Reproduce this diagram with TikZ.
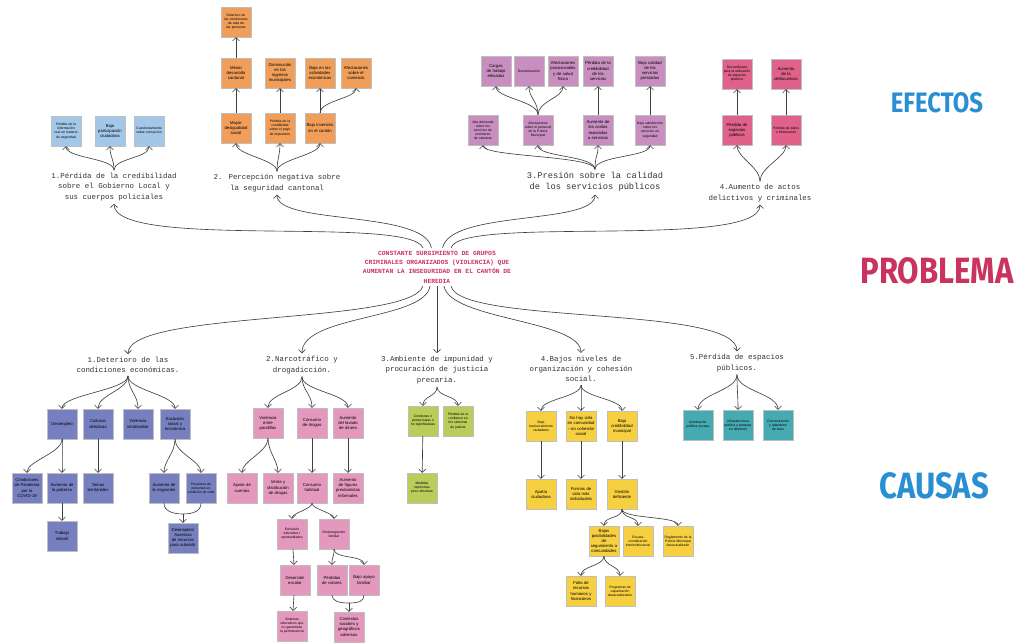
\documentclass[tikz,border=0pt]{standalone}
\usepackage{fontspec}
\setmainfont{Liberation Sans}
\newfontfamily\monofont{Liberation Mono}
\newfontfamily\titlefont[FakeStretch=0.85]{Fira Sans}
\usetikzlibrary{arrows.meta}
\hyphenpenalty=10000
\exhyphenpenalty=10000

\definecolor{efblue}{RGB}{163,199,232}
\definecolor{eforange}{RGB}{240,158,90}
\definecolor{efpurple}{RGB}{201,142,192}
\definecolor{efpink}{RGB}{224,98,138}
\definecolor{caviolet}{RGB}{118,128,192}
\definecolor{capink}{RGB}{228,152,190}
\definecolor{caolive}{RGB}{186,204,90}
\definecolor{cayellow}{RGB}{246,208,64}
\definecolor{cateal}{RGB}{70,170,178}
\definecolor{titleblue}{RGB}{42,143,210}
\definecolor{titlered}{RGB}{201,51,95}

\tikzset{
  note/.style={draw=black!25, line width=0.2pt, minimum width=0.75cm, minimum height=0.75cm,
    text width=0.68cm, align=center, inner sep=0.5pt, font=\fontsize{3}{3.6}\selectfont},
  small/.style={font=\fontsize{2.4}{2.9}\selectfont},
  head/.style={font=\monofont\fontsize{5.3}{7.3}\selectfont, text=black!80, align=center, inner sep=2pt},
  arr/.style={draw=black!75, line width=0.45pt, -{Straight Barb[length=2.4pt,width=5pt]}},
  line/.style={draw=black!75, line width=0.45pt},
  big/.style={font=\titlefont\bfseries\fontsize{26}{26}\selectfont}
}

\begin{document}
\begin{tikzpicture}[x=0.025cm, y=-0.025cm]
\fill[white] (0,0) rectangle (1022,643);
\useasboundingbox (0,0) rectangle (1022,643);

% Titles
\node[big, text=titleblue, font=\titlefont\bfseries\fontsize{20}{20}\selectfont] (tef) at (937,103) {EFECTOS};
\node[big, text=titlered] (tpr) at (937,271) {PROBLEMA};
\node[big, text=titleblue] (tca) at (934,486) {CAUSAS};

% Central problem
\node[font=\monofont\bfseries\fontsize{4.5}{6.6}\selectfont, text=titlered, align=center, inner sep=2pt] (prob) at (437,267)
  {CONSTANTE SURGIMIENTO DE GRUPOS\\CRIMINALES ORGANIZADOS (VIOLENCIA) QUE\\AUMENTAN LA INSEGURIDAD EN EL CANTÓN DE\\HEREDIA};

% Effect 1
\node[head] (he1) at (114,187) {1.Pérdida de la credibilidad\\sobre el Gobierno Local y\\sus cuerpos policiales};
\node[note, small, fill=efblue] (e1a) at (66,131) {Pérdida de la información real en materia de seguridad};
\node[note, fill=efblue] (e1b) at (110,131) {Bajo participación ciudadana};
\node[note, small, fill=efblue] (e1c) at (149,131) {Cuestionamiento sobre corrupción};
\foreach \b in {e1a,e1b,e1c}
  \draw[arr] (he1.north) .. controls +(0,-12) and +(0,12) .. (\b.south);

% Effect 2
\node[head] (he2) at (277,183) {2. Percepción negativa sobre\\la seguridad cantonal};
\node[note, small, fill=eforange] (e2a) at (236,22) {Deterioro de las condiciones de vida de las personas};
\node[note, fill=eforange] (e2b) at (236,73) {Menor desarrollo cantonal};
\node[note, fill=eforange] (e2c) at (280,73) {Disminución en los ingresos municipales};
\node[note, fill=eforange] (e2d) at (320,73) {Baja en las actividades económicas};
\node[note, fill=eforange] (e2e) at (356,73) {Afectaciones sobre el comercio};
\node[note, fill=eforange] (e2f) at (236,128) {Mayor desigualdad social};
\node[note, small, fill=eforange] (e2g) at (280,128) {Pérdida de la credibilidad sobre el pago de impuestos};
\node[note, fill=eforange] (e2h) at (320,128) {Baja inversión en el cantón};
\draw[arr] (e2b) -- (e2a);
\draw[arr] (e2f) -- (e2b);
\draw[arr] (e2g) -- (e2c);
\draw[arr] (e2h) -- (e2d);
\draw[arr] (e2h.north) .. controls +(0,-12) and +(0,10) .. (e2e.south);
\foreach \b in {e2f,e2g,e2h}
  \draw[arr] (he2.north) .. controls +(0,-12) and +(0,12) .. (\b.south);

% Effect 3
\node[head, font=\monofont\fontsize{6.2}{7.8}\selectfont] (he3) at (595,182) {3.Presión sobre la calidad\\de los servicios públicos};
\node[note, fill=efpurple] (e3a) at (496,71) {Cargas de trabajo elevadas};
\node[note, small, fill=efpurple] (e3b) at (529,71) {Desmotivación};
\node[note, fill=efpurple] (e3c) at (563,71) {Afectaciones psicosociales y de salud física};
\node[note, fill=efpurple] (e3d) at (598,71) {Pérdida de la credibilidad de los servicios};
\node[note, fill=efpurple] (e3e) at (650,71) {Baja calidad de los servicios prestados};
\node[note, small, fill=efpurple] (e3f) at (483,130) {Alta demanda sobre los servicios de monitoreo de cámaras};
\node[note, small, fill=efpurple] (e3g) at (538,130) {Afectaciones sobre el personal de la Policía Municipal};
\node[note, fill=efpurple] (e3h) at (598,130) {Aumento de los costos asociados a servicios};
\node[note, small, fill=efpurple] (e3i) at (650,130) {Baja satisfacción sobre los servicios en seguridad};
\foreach \b in {e3a,e3b,e3c}
  \draw[arr] (e3g.north) .. controls +(0,-14) and +(0,12) .. (\b.south);
\draw[arr] (e3h) -- (e3d);
\draw[arr] (e3i) -- (e3e);
\foreach \b in {e3f,e3g,e3h,e3i}
  \draw[arr] (he3.north) .. controls +(0,-14) and +(0,12) .. (\b.south);

% Effect 4
\node[head] (he4) at (760,193) {4.Aumento de actos\\delictivos y criminales};
\node[note, small, fill=efpink] (e4a) at (737,74) {Desconfianza para la utilización de espacios públicos};
\node[note, fill=efpink] (e4b) at (786,74) {Aumento de la delincuencia};
\node[note, fill=efpink] (e4c) at (737,130) {Pérdida de espacios públicos};
\node[note, small, fill=efpink] (e4d) at (786,130) {Pérdida de datos e información};
\draw[arr] (e4c) -- (e4a);
\draw[arr] (e4d) -- (e4b);
\foreach \b in {e4c,e4d}
  \draw[arr] (he4.north) .. controls +(0,-14) and +(0,12) .. (\b.south);

% Problem to effects
\draw[arr] ([xshift=-10pt]prob.north) .. controls (410,215) and (114,250) .. (he1.south);
\draw[arr] ([xshift=-4pt]prob.north) .. controls (425,210) and (277,225) .. (he2.south);
\draw[arr] ([xshift=4pt]prob.north) .. controls (450,210) and (595,225) .. (he3.south);
\draw[arr] ([xshift=10pt]prob.north) .. controls (460,215) and (760,250) .. (he4.south);

% Cause 1
\node[head] (hc1) at (128,365) {1.Deterioro de las\\condiciones económicas.};
\node[note, fill=caviolet] (c1a) at (62,424) {Desempleo};
\node[note, fill=caviolet] (c1b) at (98,424) {Culturas delictivas};
\node[note, fill=caviolet] (c1c) at (138,424) {Violencia intrafamiliar};
\node[note, fill=caviolet] (c1d) at (175,424) {Exclusión social y económica};
\node[note, fill=caviolet] (c1e) at (27,488) {Condiciones de Pandemia por la COVID-19};
\node[note, fill=caviolet] (c1f) at (62,488) {Aumento de la pobreza};
\node[note, fill=caviolet] (c1g) at (98,488) {Tomas territoriales};
\node[note, fill=caviolet] (c1h) at (164,488) {Aumento de la migración};
\node[note, small, fill=caviolet] (c1i) at (201,488) {Presencia de personas en condición de calle};
\node[note, fill=caviolet] (c1j) at (62,536) {Trabajo infantil};
\node[note, fill=caviolet] (c1k) at (183,538) {Desempleo/ Ausencia de recursos para subsistir};
\foreach \b in {c1a,c1b,c1c,c1d}
  \draw[arr] (hc1.south) .. controls +(0,14) and +(0,-14) .. (\b.north);
\foreach \b in {c1e,c1f}
  \draw[arr] (c1a.south) .. controls +(0,14) and +(0,-12) .. (\b.north);
\draw[arr] (c1b) -- (c1g);
\foreach \b in {c1h,c1i}
  \draw[arr] (c1d.south) .. controls +(0,14) and +(0,-12) .. (\b.north);
\draw[arr] (c1f) -- (c1j);
\coordinate (m1) at (183,514);
\draw[line] (c1h.south) .. controls +(0,8) and +(-10,0) .. (m1);
\draw[line] (c1i.south) .. controls +(0,8) and +(10,0) .. (m1);
\draw[arr] (m1) -- (c1k.north);

% Cause 2
\node[head] (hc2) at (302,365) {2.Narcotráfico y\\drogadicción.};
\node[note, fill=capink] (c2a) at (268,423) {Violencia entre pandillas};
\node[note, fill=capink] (c2b) at (312,423) {Consumo de drogas};
\node[note, fill=capink] (c2c) at (348,423) {Aumento del lavado de dinero};
\node[note, fill=capink] (c2d) at (242,488) {Ajuste de cuentas};
\node[note, fill=capink] (c2e) at (278,488) {Venta y distribución de drogas};
\node[note, fill=capink] (c2f) at (312,488) {Consumo habitual};
\node[note, fill=capink] (c2g) at (348,488) {Aumento de figuras prestamistas informales};
\node[note, small, fill=capink] (c2h) at (292,534) {Exclusión educativa / oportunidades};
\node[note, small, fill=capink] (c2i) at (334,534) {Desintegración familiar};
\node[note, fill=capink] (c2j) at (295,580) {Deserción escolar};
\node[note, fill=capink] (c2k) at (332,580) {Pérdidas de valores};
\node[note, fill=capink] (c2l) at (364,580) {Bajo apoyo familiar};
\node[note, small, fill=capink] (c2m) at (292,626) {Sistemas educativos que no garantizan la permanencia};
\node[note, fill=capink] (c2n) at (349,627) {Contextos sociales y geográficos adversos};
\foreach \b in {c2a,c2b,c2c}
  \draw[arr] (hc2.south) .. controls +(0,14) and +(0,-14) .. (\b.north);
\foreach \b in {c2d,c2e}
  \draw[arr] (c2a.south) .. controls +(0,14) and +(0,-12) .. (\b.north);
\draw[arr] (c2b) -- (c2f);
\draw[arr] (c2c) -- (c2g);
\foreach \b in {c2h,c2i}
  \draw[arr] (c2f.south) .. controls +(0,6) and +(0,-6) .. (\b.north);
\draw[arr] (c2h) -- (c2j);
\draw[arr] (c2j) -- (c2m);
\foreach \b in {c2k,c2l}
  \draw[arr] (c2i.south) .. controls +(0,10) and +(0,-10) .. (\b.north);
\coordinate (m2) at (349,603);
\draw[line] (c2k.south) .. controls +(0,6) and +(-10,0) .. (m2);
\draw[line] (c2l.south) .. controls +(0,6) and +(10,0) .. (m2);
\draw[arr] (m2) -- (c2n.north);

% Cause 3
\node[head] (hc3) at (437,370) {3.Ambiente de impunidad y\\procuración de justicia\\precaria.};
\node[note, small, fill=caolive] (c3a) at (423,421) {Condenas o penas bajas o no significativas};
\node[note, small, fill=caolive] (c3b) at (458,421) {Pérdida de la confianza en los sistemas de justicia};
\node[note, small, fill=caolive] (c3c) at (422,488) {Medidas represivas poco efectivas};
\foreach \b in {c3a,c3b}
  \draw[arr] (hc3.south) .. controls +(0,10) and +(0,-10) .. (\b.north);
\draw[arr] (c3a) -- (c3c);

% Cause 4
\node[head] (hc4) at (581,369) {4.Bajos niveles de\\organización y cohesión\\social.};
\node[note, small, fill=cayellow] (c4a) at (541,426) {Bajo involucramiento ciudadano};
\node[note, fill=cayellow] (c4b) at (581,426) {No hay vida en comunidad - sin cohesión social};
\node[note, fill=cayellow] (c4c) at (622,426) {Baja credibilidad municipal};
\node[note, fill=cayellow] (c4d) at (541,494) {Apatía ciudadana};
\node[note, fill=cayellow] (c4e) at (581,494) {Formas de vida más individuales};
\node[note, fill=cayellow] (c4f) at (622,494) {Gestión deficiente};
\node[note, fill=cayellow] (c4g) at (604,541) {Bajas posibilidades de seguimiento a comunidades};
\node[note, small, fill=cayellow] (c4h) at (638,541) {Escasa coordinación interinstitucional};
\node[note, small, fill=cayellow] (c4i) at (678,541) {Reglamento de la Policía Municipal desactualizado};
\node[note, fill=cayellow] (c4j) at (581,591) {Falta de recursos humanos y financieros};
\node[note, small, fill=cayellow] (c4k) at (620,591) {Programas de capacitación desactualizados};
\foreach \b in {c4a,c4b,c4c}
  \draw[arr] (hc4.south) .. controls +(0,12) and +(0,-12) .. (\b.north);
\draw[arr] (c4a) -- (c4d);
\draw[arr] (c4b) -- (c4e);
\draw[arr] (c4c) -- (c4f);
\foreach \b in {c4g,c4h,c4i}
  \draw[arr] (c4f.south) .. controls +(0,10) and +(0,-10) .. (\b.north);
\foreach \b in {c4j,c4k}
  \draw[arr] (c4g.south) .. controls +(0,10) and +(0,-10) .. (\b.north);

% Cause 5
\node[head] (hc5) at (737,363) {5.Pérdida de espacios\\públicos.};
\node[note, small, fill=cateal] (c5a) at (698,425) {Iluminación pública escasa};
\node[note, small, fill=cateal] (c5b) at (738,425) {Infraestructura pública y parques en deterioro};
\node[note, small, fill=cateal] (c5c) at (778,425) {Concentración y abandono de lotes};
\foreach \b in {c5a,c5b,c5c}
  \draw[arr] (hc5.south) .. controls +(0,16) and +(0,-16) .. (\b.north);

% Problem to causes
\draw[arr] ([xshift=-10pt]prob.south) .. controls (410,325) and (128,310) .. (hc1.north);
\draw[arr] ([xshift=-5pt]prob.south) .. controls (425,320) and (302,315) .. (hc2.north);
\draw[arr] (prob.south) -- (hc3.north);
\draw[arr] ([xshift=5pt]prob.south) .. controls (450,320) and (581,320) .. (hc4.north);
\draw[arr] ([xshift=10pt]prob.south) .. controls (460,325) and (737,305) .. (hc5.north);
\end{tikzpicture}
\end{document}
